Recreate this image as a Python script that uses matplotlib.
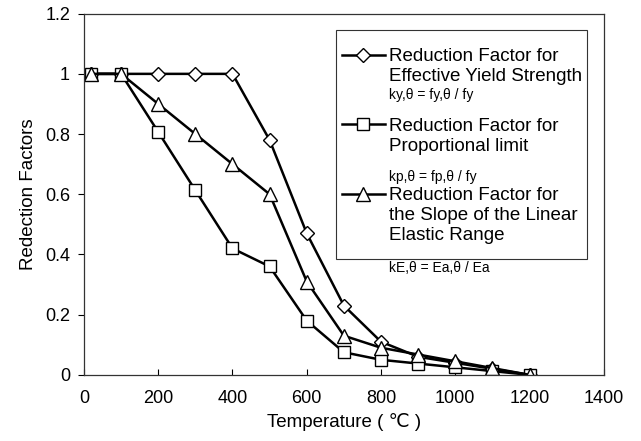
import matplotlib
matplotlib.use("Agg")
import matplotlib.pyplot as plt
from matplotlib.lines import Line2D

plt.rcParams['font.family'] = ['Liberation Sans', 'DejaVu Sans']

# temperatures (deg C) and reduction factors
temps = [20, 100, 200, 300, 400, 500, 600, 700, 800, 900, 1000, 1100, 1200]
k_y = [1, 1, 1, 1, 1, 0.78, 0.47, 0.23, 0.11, 0.06, 0.04, 0.02, 0]
k_p = [1, 1, 0.807, 0.613, 0.42, 0.36, 0.18, 0.075, 0.05, 0.0375, 0.025, 0.0125, 0]
k_E = [1, 1, 0.9, 0.8, 0.7, 0.6, 0.31, 0.13, 0.09, 0.0675, 0.045, 0.0225, 0]

x_ticks = [0, 200, 400, 600, 800, 1000, 1200, 1400]
y_ticks = [0, 0.2, 0.4, 0.6, 0.8, 1.0, 1.2]
y_tick_labels = ['0', '0.2', '0.4', '0.6', '0.8', '1', '1.2']

# one list per legend entry: two text lines, then the formula line
legend_lines = [
    ['Reduction Factor for', 'Effective Yield Strength', 'ky,θ = fy,θ / fy\n'],
    ['Reduction Factor for', 'Proportional limit', '\nkp,θ = fp,θ / fy'],
    ['Reduction Factor for', 'the Slope of the Linear', 'Elastic Range\n'],
]
kE_formula = 'kE,θ = Ea,θ / Ea'

fig = plt.figure(figsize=(6.41, 4.41), dpi=100)
ax = fig.add_axes([0.131, 0.150, 0.811, 0.819])

style = dict(color='black', linewidth=1.8, markerfacecolor='white',
             markeredgecolor='black', markeredgewidth=1.0)
l_y, = ax.plot(temps, k_y, marker='D', markersize=7.5, **style)
l_p, = ax.plot(temps, k_p, marker='s', markersize=9, **style)
l_E, = ax.plot(temps, k_E, marker='^', markersize=10, **style)

ax.set_xlim(0, 1400)
ax.set_ylim(0, 1.2)
ax.set_xticks(x_ticks)
ax.set_yticks(y_ticks)
ax.set_yticklabels(y_tick_labels)
ax.tick_params(axis='x', direction='in', length=4, labelsize=13, pad=11)
ax.tick_params(axis='y', direction='out', length=4, labelsize=13, pad=6)
for sp in ax.spines.values():
    sp.set_linewidth(0.9)
    sp.set_color('#333333')

ax.set_xlabel('Temperature ( ℃ )', fontsize=13.5, labelpad=4)
ax.set_ylabel('Redection Factors', fontsize=13.5, labelpad=6)

# legend: one row per text line, blank handles on continuation lines
blank = Line2D([], [], linestyle='none')
handles, labels = [], []
for h, lines in zip([l_y, l_p, l_E], legend_lines):
    handles += [h, blank, blank]
    labels += lines
leg = ax.legend(handles, labels, loc='upper left', bbox_to_anchor=(0.485, 0.956),
                borderaxespad=0, fontsize=13.5, labelspacing=0.15,
                handlelength=2.3, handletextpad=0.2, borderpad=0.3,
                title=' ', title_fontsize=7,
                fancybox=False, framealpha=1, edgecolor='#333333')
leg.get_frame().set_linewidth(0.8)
texts = leg.get_texts()
for i in (2, 5):
    texts[i].set_fontsize(10)
    texts[i].set_linespacing(0.9)
texts[8].set_linespacing(0.4)

ax.text(0.587, 0.296, kE_formula, transform=ax.transAxes, fontsize=10, va='center')

fig.savefig('out.png', dpi=100)
